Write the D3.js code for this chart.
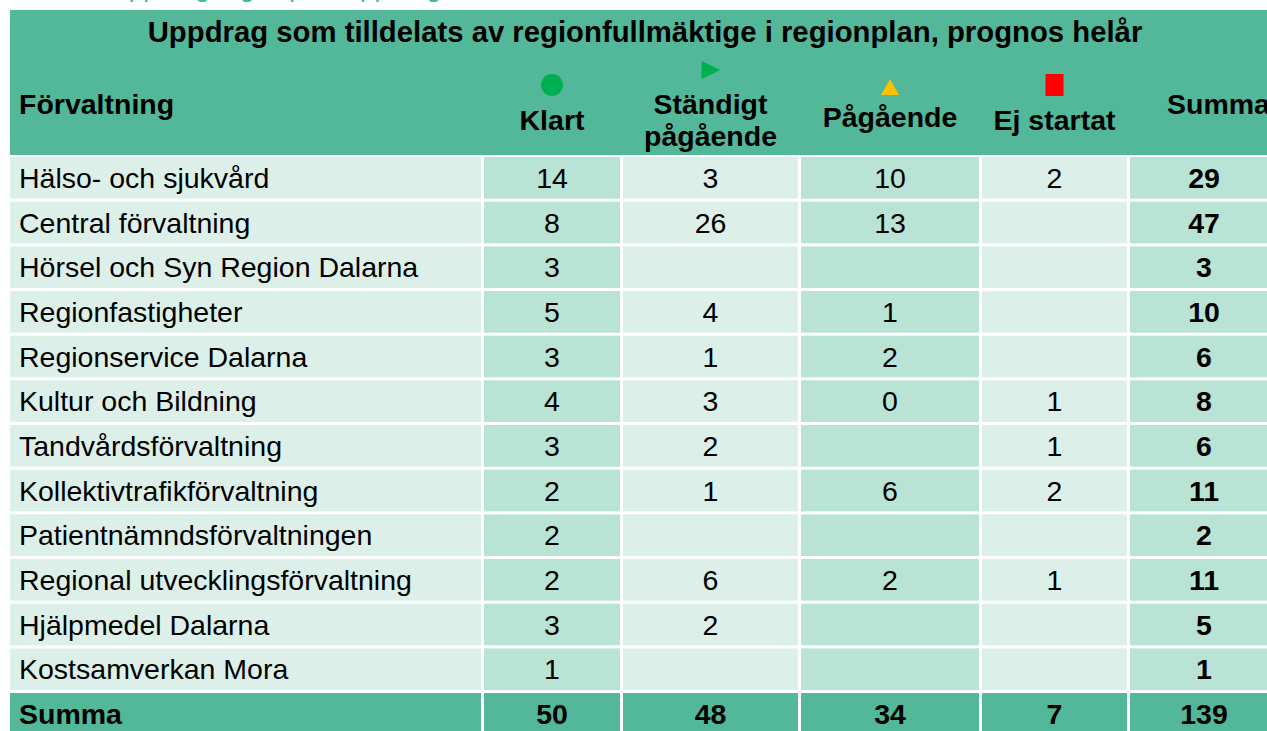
<!DOCTYPE html>
<html>
<head>
<meta charset="utf-8">
<script src="https://cdn.jsdelivr.net/npm/d3@7"></script>
<style>
  body { margin: 0; background: #fff; overflow: hidden; }
  svg { display: block; font-family: "Liberation Sans", Arial, sans-serif; }
</style>
</head>
<body>
<svg id="chart" width="1267" height="731"></svg>
<script>
const title = 'Uppdrag som tilldelats av regionfullmäktige i regionplan, prognos helår';
const columns = ['Förvaltning', 'Klart', 'Ständigt pågående', 'Pågående', 'Ej startat', 'Summa'];
const categories = [
    'Hälso- och sjukvård',
    'Central förvaltning',
    'Hörsel och Syn Region Dalarna',
    'Regionfastigheter',
    'Regionservice Dalarna',
    'Kultur och Bildning',
    'Tandvårdsförvaltning',
    'Kollektivtrafikförvaltning',
    'Patientnämndsförvaltningen',
    'Regional utvecklingsförvaltning',
    'Hjälpmedel Dalarna',
    'Kostsamverkan Mora'
];
const klart     = [14, 8, 3, 5, 3, 4, 3, 2, 2, 2, 3, 1];
const standigt  = [3, 26, null, 4, 1, 3, 2, 1, null, 6, 2, null];
const pagaende  = [10, 13, null, 1, 2, 0, null, 6, null, 2, null, null];
const ejStartat = [2, null, null, null, null, 1, 1, 2, null, 1, null, null];
const summa     = [29, 47, 3, 10, 6, 8, 6, 11, 2, 11, 5, 1];
const totalLabel = 'Summa';
const totals = [50, 48, 34, 7, 139];

const HEADER = '#52b899';
const LIGHT = '#dcf0e9';
const MEDIUM = '#b9e3d5';

const svg = d3.select('#chart');

// column edges (left, right) in px
const colEdges = [[10, 481], [484, 620], [623, 798], [801, 979], [982, 1127], [1130, 1278]];
const colFill = [LIGHT, MEDIUM, LIGHT, MEDIUM, LIGHT, MEDIUM];
const cx = i => (colEdges[i][0] + colEdges[i][1]) / 2;

const rowKeys = categories.concat([totalLabel]);
const step = 44.67;
const gap = 3;
const y = d3.scaleBand()
    .domain(rowKeys)
    .range([157, 157 + step * (rowKeys.length - 1) + (step - gap)])
    .paddingInner(gap / step)
    .paddingOuter(0);

// partly hidden caption above the table
svg.append('text')
    .attr('x', 110)
    .attr('y', -3)
    .attr('fill', '#3dbb9e')
    .attr('font-size', 26)
    .text('Uppdrag regionplan uppdrag');

// header block
svg.append('rect')
    .attr('x', 10).attr('y', 10)
    .attr('width', 1267).attr('height', 145)
    .attr('fill', HEADER);

svg.append('text')
    .attr('x', 645).attr('y', 42)
    .attr('text-anchor', 'middle')
    .attr('font-weight', 'bold')
    .attr('font-size', 29.3)
    .text(title);

const head = svg.append('g').attr('font-weight', 'bold').attr('font-size', 28.5);
head.append('text').attr('x', 19).attr('y', 114).text(columns[0]);
head.append('text').attr('x', cx(1)).attr('y', 130).attr('text-anchor', 'middle').text(columns[1]);
head.append('text').attr('x', cx(2)).attr('y', 114).attr('text-anchor', 'middle').text('Ständigt');
head.append('text').attr('x', cx(2)).attr('y', 146).attr('text-anchor', 'middle').text('pågående');
head.append('text').attr('x', cx(3)).attr('y', 127).attr('text-anchor', 'middle').text(columns[3]);
head.append('text').attr('x', cx(4)).attr('y', 130).attr('text-anchor', 'middle').text(columns[4]);
head.append('text').attr('x', 1167).attr('y', 114).text(columns[5]);

// status icons
svg.append('circle').attr('cx', cx(1)).attr('cy', 85).attr('r', 11).attr('fill', '#00b050');
svg.append('path')
    .attr('d', `M${cx(2) - 9},61 L${cx(2) + 10},70 L${cx(2) - 9},79 Z`)
    .attr('fill', '#00b050');
svg.append('path')
    .attr('d', `M${cx(3)},79 L${cx(3) + 9},95 L${cx(3) - 9},95 Z`)
    .attr('fill', '#ffc000');
svg.append('rect')
    .attr('x', cx(4) - 9).attr('y', 74)
    .attr('width', 18).attr('height', 22)
    .attr('fill', '#ff0000');

// body rows
const series = [klart, standigt, pagaende, ejStartat, summa];
const rows = categories.map((c, i) => [c].concat(series.map(s => s[i])));
rows.push([totalLabel].concat(totals));

const rowG = svg.selectAll('.row')
    .data(rows)
    .enter()
    .append('g')
    .attr('class', 'row')
    .attr('transform', d => `translate(0,${y(d[0])})`);

const cells = (d, ri) => d.map((v, ci) => ({v, ci, total: ri === rows.length - 1}));

rowG.selectAll('rect')
    .data(cells)
    .enter()
    .append('rect')
    .attr('x', d => colEdges[d.ci][0])
    .attr('width', d => colEdges[d.ci][1] - colEdges[d.ci][0])
    .attr('height', y.bandwidth())
    .attr('fill', d => d.total ? HEADER : colFill[d.ci]);

rowG.selectAll('text')
    .data(cells)
    .enter()
    .filter(d => d.v !== null)
    .append('text')
    .attr('x', d => d.ci === 0 ? 19 : cx(d.ci))
    .attr('y', y.bandwidth() / 2)
    .attr('dy', '0.36em')
    .attr('text-anchor', d => d.ci === 0 ? 'start' : 'middle')
    .attr('font-size', 28.5)
    .attr('font-weight', d => (d.total || d.ci === 5) ? 'bold' : 'normal')
    .text(d => d.v);
</script>
</body>
</html>
